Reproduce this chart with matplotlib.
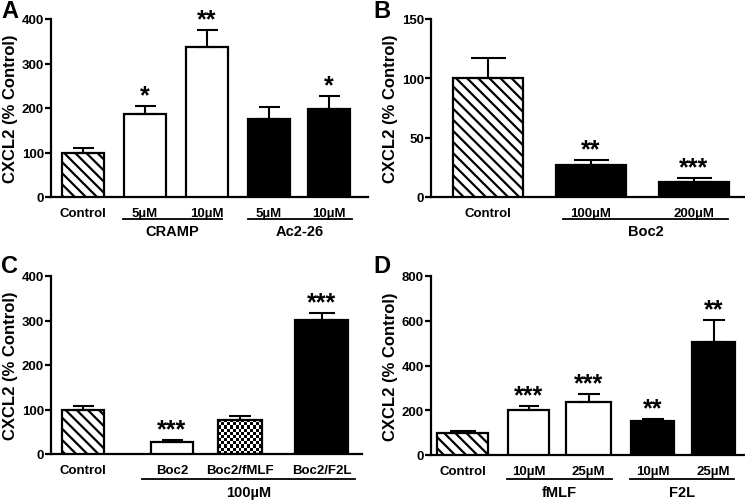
import numpy as np
import matplotlib
matplotlib.use("Agg")
import matplotlib.pyplot as plt
from matplotlib.lines import Line2D

plt.rcParams['font.family'] = ['Liberation Sans', 'DejaVu Sans']
plt.rcParams['font.weight'] = 'bold'
plt.rcParams['hatch.linewidth'] = 1.6

W, H = 745, 502

# ---- data ----
a_labels = ['Control', '5µM', '10µM', '5µM', '10µM']
a_means = [100, 187, 337, 176, 198]
a_err = [10, 18, 38, 27, 30]
a_stars = ['', '*', '**', '', '*']
a_fills = ['hatch', 'white', 'white', 'black', 'black']

b_labels = ['Control', '100µM', '200µM']
b_means = [100, 27, 13]
b_err = [17, 4, 3]
b_stars = ['', '**', '***']
b_fills = ['hatch', 'black', 'black']

c_labels = ['Control', 'Boc2', 'Boc2/fMLF', 'Boc2/F2L']
c_means = [100, 27, 77, 302]
c_err = [8, 4, 8, 14]
c_stars = ['', '***', '', '***']
c_fills = ['hatch', 'white', 'checker', 'black']

d_labels = ['Control', '10µM', '25µM', '10µM', '25µM']
d_means = [100, 200, 238, 153, 507]
d_err = [8, 19, 35, 7, 98]
d_stars = ['', '***', '***', '**', '**']
d_fills = ['hatch', 'white', 'white', 'black', 'black']


def fx(x):
    return x / W


def fy(y):
    return 1 - y / H


fig = plt.figure(figsize=(W / 100, H / 100), dpi=100)


def panel(letter, box, ymax, yticks, centers, widths, labels, means, err,
          stars, fills, groups, letter_xy):
    l, r, t, b = box
    ax = fig.add_axes([fx(l), fy(b), fx(r) - fx(l), (b - t) / H])
    ax.set_xlim(l, r)
    ax.set_ylim(0, ymax)
    for c, w, m, e, s, f in zip(centers, widths, means, err, stars, fills):
        face = {'white': 'white', 'black': 'black', 'checker': 'none'}.get(f, 'white')
        bar = ax.bar(c, m, width=w, color=face, edgecolor='black',
                     linewidth=1.6, zorder=3,
                     hatch='\\\\\\' if f == 'hatch' else None)[0]
        if f == 'checker':
            # small checkerboard fill
            px_h = m / ymax * (b - t)
            nx, ny = int(round(w / 3)), int(round(px_h / 3))
            board = (np.add.outer(np.arange(ny), np.arange(nx)) % 2)
            im = ax.imshow(board, cmap='gray', extent=(c - w / 2, c + w / 2, 0, m),
                           aspect='auto', interpolation='nearest', zorder=2.5)
            im.set_clip_path(bar)
        ax.errorbar(c, m, yerr=[[0], [e]], fmt='none', ecolor='black',
                    elinewidth=1.5, capsize=w / 4 * 0.72, capthick=1.5, zorder=4)
        if s:
            ax.annotate(s, (c, m + e), xytext=(0, -1), textcoords='offset points',
                        ha='center', va='bottom', fontsize=18, fontweight='bold')
    for sp in ['top', 'right']:
        ax.spines[sp].set_visible(False)
    for sp in ['left', 'bottom']:
        ax.spines[sp].set_linewidth(1.6)
    ax.set_yticks(yticks)
    ax.set_xticks(centers)
    ax.set_xticklabels(labels, fontsize=9.5, fontweight='bold')
    ax.tick_params(axis='x', length=0, pad=7)
    ax.tick_params(axis='y', length=4, width=1.6, labelsize=9.5, pad=1)
    ax.set_ylabel('CXCL2 (% Control)', fontsize=12, fontweight='bold', labelpad=3)
    fig.text(fx(letter_xy[0]), fy(letter_xy[1]), letter, fontsize=17,
             fontweight='bold', ha='left', va='top')
    for x0, x1, ly, name, ty in groups:
        fig.add_artist(Line2D([fx(x0), fx(x1)], [fy(ly), fy(ly)], color='black',
                              linewidth=1.3))
        fig.text(fx((x0 + x1) / 2), fy(ty), name, fontsize=10.5, fontweight='bold',
                 ha='center', va='center')
    return ax


panel('A', (51, 368, 20, 198), 400, [0, 100, 200, 300, 400],
      [83, 145, 207, 269, 329], [42, 42, 42, 42, 42],
      a_labels, a_means, a_err, a_stars, a_fills,
      [(123, 222, 220, 'CRAMP', 232), (248, 352, 220, 'Ac2-26', 232)], (1, 0))

panel('B', (431, 745, 20, 198), 150, [0, 50, 100, 150],
      [488, 591, 693.5], [70, 70, 70],
      b_labels, b_means, b_err, b_stars, b_fills,
      [(563, 728, 220, 'Boc2', 232)], (373, 0))

panel('C', (51, 362, 277, 455), 400, [0, 100, 200, 300, 400],
      [83, 172, 240, 321.5], [42, 42, 44, 53],
      c_labels, c_means, c_err, c_stars, c_fills,
      [(142, 355, 480, '100µM', 493)], (1, 255))

panel('D', (431, 745, 277, 456), 800, [0, 200, 400, 600, 800],
      [462.5, 528.5, 588.5, 652.5, 713.5], [51, 41, 45, 43, 43],
      d_labels, d_means, d_err, d_stars, d_fills,
      [(507, 612, 480, 'fMLF', 493), (630, 734, 480, 'F2L', 493)], (373, 255))

fig.savefig('out.png', dpi=100)
